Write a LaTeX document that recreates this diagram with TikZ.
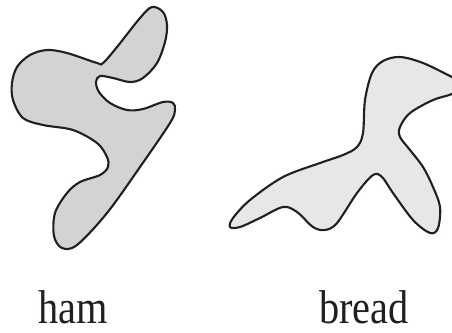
\documentclass[tikz,border=0pt]{standalone}
\usepackage{fontspec}
\newfontfamily\labelfont[FakeStretch=0.85]{Liberation Serif}
\definecolor{hamgray}{HTML}{D1D3D4}
\definecolor{breadgray}{HTML}{E6E7E8}
\definecolor{inkline}{HTML}{231F20}
\begin{document}
\begin{tikzpicture}[x=0.02cm,y=-0.02cm,
  blob/.style={draw=inkline,line width=1.2pt,smooth cycle,tension=0.55},
  lbl/.style={anchor=base,inner sep=0pt,font=\labelfont\fontsize{27}{30}\selectfont,text=inkline}]
  \useasboundingbox (0,0) rectangle (452,332);
  % ham
  \draw[blob,fill=hamgray] plot coordinates {(152,7) (163,12) (167,25) (165,42) (157,63) (143,78) (130,82) (113,78) (100,76) (96,82) (99,92) (110,103) (127,110) (143,109) (163,102) (173,103) (175,110) (170,123) (140,167) (107,213) (77,245) (62,248) (54,236) (55,213) (67,193) (80,182) (100,175) (108,167) (107,157) (97,143) (73,130) (43,125) (23,118) (13,100) (12,83) (17,67) (30,55) (47,50) (67,53) (97,63) (103,63) (117,47) (140,18)};
  % bread, cut at the right edge
  \begin{scope}
    \clip (0,0) rectangle (452,332);
    \draw[blob,fill=breadgray] plot coordinates {(400,57) (423,63) (452,77) (468,85) (452,94) (433,100) (410,113) (400,127) (400,137) (410,150) (423,167) (433,187) (440,207) (438,228) (430,233) (413,220) (393,193) (382,177) (373,175) (357,193) (337,223) (325,230) (313,227) (297,212) (283,207) (260,218) (240,227) (230,227) (233,218) (250,200) (283,177) (320,163) (343,155) (357,147) (363,133) (365,100) (372,73) (383,61)};
  \end{scope}
  \node[lbl] (ham) at (73,323) {ham};
  \node[lbl] (bread) at (364,323) {bread};
\end{tikzpicture}
\end{document}
